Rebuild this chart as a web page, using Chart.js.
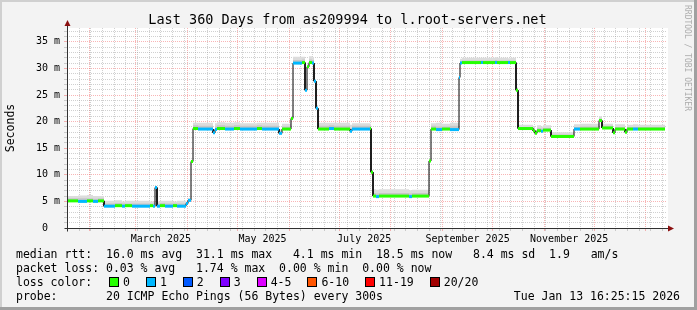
<!DOCTYPE html>
<html>
<head>
<meta charset="utf-8">
<script src="https://cdn.jsdelivr.net/npm/chart.js@4"></script>
<style>
  html, body { margin: 0; padding: 0; overflow: hidden; background: #fff; }
  #wrap { position: relative; width: 697px; height: 310px; font-family: 'DejaVu Sans Mono', monospace; color: #000; }
  #wrap canvas { position: absolute; left: 0; top: 0; }
  .txt { position: absolute; white-space: pre; font-size: 11.5px; line-height: 14px; }
  .box { position: absolute; width: 8px; height: 8px; border: 1px solid #000; }
  #title { position: absolute; left: 0; width: 695px; top: 11px; text-align: center; font-size: 13.5px; line-height: 16px; white-space: pre; }
  #stamp { position: absolute; left: 692px; top: 5px; transform-origin: 0 0; transform: rotate(90deg); font-size: 8px; line-height: 9px; color: #adadad; white-space: pre; }
</style>
</head>
<body>
<div id="wrap">
  <canvas id="c" width="697" height="310"></canvas>
  <div id="title">Last 360 Days from as209994 to l.root-servers.net</div>
  <div id="stamp">RRDTOOL / TOBI OETIKER</div>
  <div class="txt" style="left:16px;top:247px">median rtt:  16.0 ms avg  31.1 ms max   4.1 ms min  18.5 ms now   8.4 ms sd  1.9   am/s</div>
  <div class="txt" style="left:16px;top:261px">packet loss: 0.03 % avg   1.74 % max  0.00 % min  0.00 % now</div>
  <div class="txt" style="left:16px;top:275px" id="lossrow">loss color:</div>
  <div class="txt" style="left:16px;top:289px">probe:       20 ICMP Echo Pings (56 Bytes) every 300s</div>
  <div class="txt" style="right:17px;top:289px">Tue Jan 13 16:25:15 2026</div>
</div>
<script>
// runs of the median rtt (start day since window start, ms, lost pings of 20)
const runStart = [0, 6.6, 12.0, 15.6, 18.6, 22.2, 28.8, 33.0, 34.8, 39.0,
    49.8, 51.6, 52.8, 54.0, 55.8, 58.8, 63.6, 66.0, 71.4, 72.6,
    74.4, 75.6, 78.6, 87.6, 88.8, 90.0, 94.8, 100.2, 103.8, 114.0,
    117.0, 127.2, 129.0, 134.4, 135.6, 141.0, 142.8, 144.0, 145.2, 147.0,
    148.2, 149.4, 150.6, 157.2, 160.2, 169.8, 171.0, 181.8, 182.4, 183.6,
    185.4, 187.2, 205.2, 207.0, 217.2, 218.4, 221.4, 225.0, 229.8, 235.2,
    235.8, 237.0, 248.4, 249.6, 256.8, 258.0, 264.6, 265.8, 269.4, 270.6,
    279.6, 280.8, 282.0, 284.4, 285.6, 290.4, 304.2, 307.8, 319.2, 321.0,
    327.6, 328.8, 334.8, 336.0, 339.6, 342.6];
const lastDay = 358.8;

const runMedian = [5.1, 5.0, 5.1, 5.0, 5.1, 4.1, 4.2, 4.1, 4.2, 4.1,
    4.2, 4.1, 7.6, 4.1, 4.2, 4.1, 4.2, 4.1, 4.6, 5.2,
    12.5, 18.7, 18.6, 17.9, 18.5, 18.7, 18.6, 18.7, 18.6, 18.7,
    18.6, 17.8, 18.6, 20.6, 31.0, 31.1, 25.9, 30.3, 31.1, 31.0,
    27.6, 22.5, 18.6, 18.7, 18.6, 18.2, 18.6, 18.7, 10.5, 6.0,
    5.9, 6.0, 5.9, 6.0, 12.6, 18.6, 18.5, 18.6, 18.5, 28.3,
    31.0, 31.1, 31.1, 31.1, 31.1, 31.1, 31.1, 31.1, 25.9, 18.7,
    18.3, 17.8, 18.3, 18.2, 18.4, 17.2, 18.6, 18.6, 20.2, 18.8,
    17.9, 18.6, 18.0, 18.6, 18.6, 18.6];

const runLoss = [0, 1, 0, 1, 0, 1, 0, 1, 0, 1,
    0, 1, 1, 1, 0, 1, 0, 1, 1, 1,
    0, 0, 1, 1, 1, 0, 1, 0, 1, 0,
    1, 1, 0, 0, 1, 0, 1, 0, 0, 1,
    1, 1, 0, 1, 0, 1, 1, 0, 0, 0,
    1, 0, 1, 0, 0, 0, 1, 0, 1, 1,
    1, 0, 1, 0, 1, 0, 1, 0, 0, 0,
    0, 0, 0, 1, 0, 0, 1, 0, 0, 0,
    0, 0, 0, 0, 1, 0];

// smoke: spread of the individual pings above the median
const smokeMid = [5.6, 5.6, 5.6, 5.5, 5.6, 4.6, 4.7, 4.6, 4.6, 4.6,
    4.6, 4.6, 7.7, 4.6, 4.7, 4.6, 4.6, 4.6, 4.8, 5.4,
    12.6, 19.3, 19.2, 18.3, 19.1, 19.3, 19.2, 19.3, 19.2, 19.3,
    19.2, 18.2, 19.1, 20.8, 31.6, 31.7, 26.1, 30.5, 31.7, 31.6,
    27.8, 22.7, 19.2, 19.3, 19.2, 18.8, 19.2, 19.2, 10.7, 6.6,
    6.5, 6.6, 6.5, 6.6, 12.8, 19.2, 19.1, 19.1, 19.2, 28.4,
    31.4, 31.5, 31.5, 31.5, 31.6, 31.5, 31.5, 31.5, 26.1, 19.0,
    18.7, 18.1, 18.8, 18.7, 18.8, 17.6, 19.0, 19.1, 20.6, 19.2,
    18.2, 19.0, 18.4, 19.0, 19.0, 19.0];

const smokeTop = [6.0, 6.1, 6.2, 6.0, 6.0, 5.1, 5.2, 5.0, 5.1, 5.1,
    5.0, 5.0, 7.9, 5.0, 5.1, 5.1, 5.0, 5.1, 5.0, 5.6,
    12.8, 19.8, 19.8, 18.6, 19.7, 19.9, 19.8, 19.9, 19.7, 19.8,
    19.8, 18.5, 19.6, 21.0, 32.2, 32.2, 26.3, 30.8, 32.3, 32.1,
    28.0, 22.9, 19.8, 19.8, 19.8, 19.4, 19.7, 19.6, 10.9, 7.3,
    7.2, 7.3, 7.1, 7.2, 13.0, 19.7, 19.8, 19.6, 19.8, 28.6,
    31.8, 32.0, 32.0, 32.0, 32.1, 32.0, 31.9, 32.0, 26.4, 19.4,
    19.1, 18.4, 19.3, 19.1, 19.3, 18.0, 19.5, 19.6, 21.0, 19.6,
    18.4, 19.5, 18.7, 19.4, 19.5, 19.4];

const monthLabels = ['March 2025', 'May 2025', 'July 2025', 'September 2025', 'November 2025'];
const lossLegend = ['0', '1', '2', '3', '4-5', '6-10', '11-19', '20/20'];
const lossColors = ['#26ff00', '#00b8ff', '#0059ff', '#7e00ff', '#dd00ff', '#ff5500', '#ff0000', '#a10000'];

const DAY = 864e5;
const endTime = new Date(2026, 0, 13, 16, 25, 15).getTime();
const startTime = endTime - 360 * DAY;
const dayOf = d => (d.getTime() - startTime) / DAY;
const MONTHS = ['January', 'February', 'March', 'April', 'May', 'June', 'July',
    'August', 'September', 'October', 'November', 'December'];

function lossColor(n) {
    if (n <= 3) return lossColors[n];
    if (n <= 5) return lossColors[4];
    if (n <= 10) return lossColors[5];
    if (n <= 19) return lossColors[6];
    return lossColors[7];
}

function stepPoints(values) {
    const pts = [];
    runStart.forEach((s, i) => {
        const e = i + 1 < runStart.length ? runStart[i + 1] : lastDay;
        pts.push({x: s, y: values[i]}, {x: e, y: values[i]});
    });
    return pts;
}

// x ticks: weeks (sundays), month starts, labels half a month in
let xTicks = [];
const monthStarts = [];
for (let m = 1; m <= 12; m++) {
    monthStarts.push(dayOf(new Date(2025, m, 1)));
}
for (let d = new Date(2025, 0, 19); d.getTime() < endTime; d.setDate(d.getDate() + 7)) {
    const v = dayOf(d);
    if (!monthStarts.some(m => Math.abs(m - v) < 0.05)) xTicks.push({value: v, kind: 'minor'});
}
monthStarts.forEach(v => xTicks.push({value: v, kind: 'major'}));
monthLabels.forEach(l => {
    const parts = l.split(' ');
    xTicks.push({value: dayOf(new Date(+parts[1], MONTHS.indexOf(parts[0]), 1)) + 15, kind: 'label', lbl: l});
});
xTicks = xTicks.filter(t => t.value > 0 && t.value < 360).sort((a, b) => a.value - b.value);

const yTicks = [];
for (let v = 0; v <= 37; v++) yTicks.push({value: v});

const GRID_MINOR = 'rgba(150,150,150,0.45)';
const GRID_MAJOR = 'rgba(240,90,90,0.45)';

const framePlugin = {
    id: 'frame',
    beforeDraw(chart) {
        const {ctx, width, height, chartArea: a} = chart;
        ctx.save();
        ctx.fillStyle = '#f3f3f3';
        ctx.fillRect(0, 0, width, height);
        ctx.fillStyle = '#d0d0d0';
        ctx.fillRect(0, 0, width, 2);
        ctx.fillRect(0, 0, 2, height);
        ctx.fillStyle = '#a0a0a0';
        ctx.fillRect(0, height - 3, width, 3);
        ctx.fillRect(width - 3, 0, 3, height);
        ctx.fillStyle = '#ffffff';
        ctx.fillRect(a.left, a.top, a.right - a.left + 1, a.bottom - a.top);
        ctx.restore();
    },
    afterDatasetsDraw(chart) {
        const {ctx, chartArea: a} = chart;
        const x0 = Math.round(a.left) + 0.5, y0 = Math.round(a.bottom) + 0.5;
        ctx.save();
        ctx.strokeStyle = '#303030';
        ctx.lineWidth = 1;
        ctx.beginPath();
        ctx.moveTo(x0 - 3, y0); ctx.lineTo(a.right + 4, y0);
        ctx.moveTo(x0, y0 + 3); ctx.lineTo(x0, a.top - 4);
        ctx.stroke();
        ctx.fillStyle = '#8b1010';
        ctx.beginPath();
        ctx.moveTo(a.right + 1, y0 - 3); ctx.lineTo(a.right + 7, y0); ctx.lineTo(a.right + 1, y0 + 3);
        ctx.closePath(); ctx.fill();
        ctx.beginPath();
        ctx.moveTo(x0 - 3, a.top - 2); ctx.lineTo(x0, a.top - 8); ctx.lineTo(x0 + 3, a.top - 2);
        ctx.closePath(); ctx.fill();
        ctx.restore();
    }
};

const medianPts = stepPoints(runMedian);

new Chart(document.getElementById('c'), {
    type: 'line',
    data: {
        datasets: [
            {
                label: 'median rtt',
                data: medianPts,
                borderWidth: 3,
                borderCapStyle: 'butt',
                pointRadius: 0,
                fill: false,
                order: 0,
                segment: {
                    borderColor: c => c.p0DataIndex % 2 ? 'transparent' : lossColor(runLoss[c.p0DataIndex >> 1])
                }
            },
            {
                label: 'median line',
                data: medianPts,
                borderWidth: 1,
                borderColor: '#000000',
                pointRadius: 0,
                fill: false,
                order: 1
            },
            {
                label: 'smoke mid',
                data: stepPoints(smokeMid),
                borderWidth: 1,
                borderColor: 'transparent',
                backgroundColor: '#c6c6c6',
                pointRadius: 0,
                fill: {target: 1},
                order: 2
            },
            {
                label: 'smoke top',
                data: stepPoints(smokeTop),
                borderWidth: 1,
                borderColor: 'transparent',
                backgroundColor: '#dcdcdc',
                pointRadius: 0,
                fill: {target: 1},
                order: 3
            }
        ]
    },
    options: {
        responsive: false,
        animation: false,
        devicePixelRatio: 1,
        layout: {padding: {top: 28, right: 30, bottom: 62, left: 0}},
        plugins: {
            legend: {display: false},
            tooltip: {enabled: false},
            title: {display: false}
        },
        scales: {
            x: {
                type: 'linear',
                min: 0,
                max: 360,
                afterBuildTicks: s => { s.ticks = xTicks.map(t => Object.assign({}, t)); },
                afterFit: s => { s.height = 20; },
                grid: {
                    color: c => c.tick ? (c.tick.kind === 'major' ? GRID_MAJOR : c.tick.kind === 'minor' ? GRID_MINOR : 'transparent') : 'transparent',
                    tickLength: 3
                },
                border: {display: false, dash: [1, 1]},
                ticks: {
                    autoSkip: false,
                    maxRotation: 0,
                    padding: 2,
                    color: '#000',
                    font: {family: 'DejaVu Sans Mono', size: 10},
                    callback: (v, i, ticks) => ticks[i].lbl || ''
                }
            },
            y: {
                min: 0,
                max: 37.6,
                afterBuildTicks: s => { s.ticks = yTicks.map(t => Object.assign({}, t)); },
                afterFit: s => { s.width = 67; },
                grid: {
                    color: c => c.tick ? (c.tick.value === 0 ? 'transparent' : c.tick.value % 5 === 0 ? GRID_MAJOR : GRID_MINOR) : 'transparent',
                    tickLength: 3
                },
                border: {display: false, dash: [1, 1]},
                ticks: {
                    autoSkip: false,
                    padding: 4,
                    color: '#000',
                    font: {family: 'DejaVu Sans Mono', size: 10},
                    callback: v => v % 5 === 0 ? (v === 0 ? '0  ' : v + ' m') : ''
                },
                title: {
                    display: true,
                    text: 'Seconds',
                    color: '#000',
                    font: {family: 'DejaVu Sans Mono', size: 11.5},
                    padding: {top: 4, bottom: 4}
                }
            }
        }
    },
    plugins: [framePlugin]
});

// loss colour legend row
const row = document.getElementById('lossrow');
const wrap = document.getElementById('wrap');
let bx = 109;
lossLegend.forEach((l, i) => {
    const b = document.createElement('div');
    b.className = 'box';
    b.style.left = bx + 'px';
    b.style.top = '277px';
    b.style.background = lossColors[i];
    wrap.appendChild(b);
    const t = document.createElement('div');
    t.className = 'txt';
    t.style.left = (bx + 14) + 'px';
    t.style.top = row.style.top;
    t.textContent = l;
    wrap.appendChild(t);
    bx = bx + 14 + l.length * 6.92 + 16;
});
</script>
</body>
</html>
